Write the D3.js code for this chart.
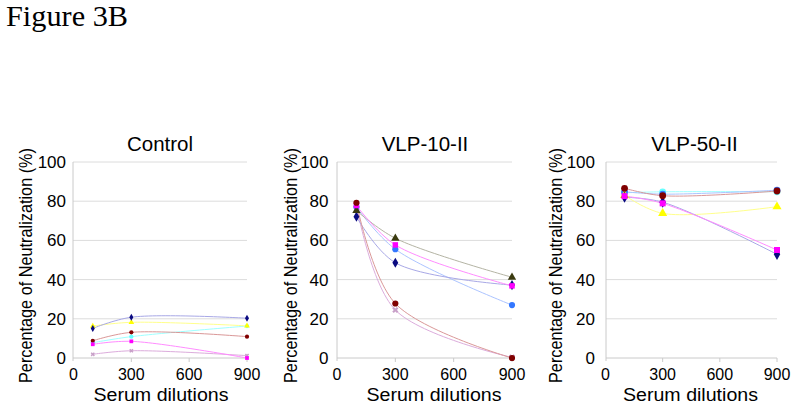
<!DOCTYPE html>
<html>
<head>
<meta charset="utf-8">
<script src="https://cdn.jsdelivr.net/npm/d3@7"></script>
<style>
  html, body { margin: 0; padding: 0; background: #fff; }
  svg { display: block; }
  text.sans { font-family: "Liberation Sans", Arial, sans-serif; fill: #000; }
  text.serif { font-family: "Liberation Serif", "Times New Roman", serif; fill: #000; }
</style>
</head>
<body>
<svg id="chart" width="795" height="408"></svg>
<script>
// ---------------- DATA ----------------
const figureTitle = "Figure 3B";
const panelTitles = ["Control", "VLP-10-II", "VLP-50-II"];
const xTitle = "Serum dilutions";
const yTitle = "Percentage of Neutralization (%)";
const dilutions = [100, 300, 900];
const xTickValues = [0, 300, 600, 900];
const yTickValues = [0, 20, 40, 60, 80, 100];

// Control panel
const controlNavy    = [15.1, 20.8, 20.3];
const controlYellow  = [16.3, 18.2, 16.4];
const controlCyan    = [7.8, 10.9, 16.3];
const controlDarkred = [8.8, 13.1, 10.9];
const controlMagenta = [7.0, 8.5, 0.0];
const controlPurple  = [1.9, 3.7, 1.2];

// VLP-10-II panel
const vlp10Darkred = [79.2, 27.8, 0.0];
const vlp10Purple  = [78.0, 24.5, 0.3];
const vlp10Magenta = [77.8, 57.7, 36.8];
const vlp10Blue    = [77.0, 55.5, 27.0];
const vlp10Olive   = [75.2, 61.1, 41.2];
const vlp10Navy    = [72.1, 48.6, 37.2];

// VLP-50-II panel
const vlp50Cyan    = [84.3, 84.8, 84.8];
const vlp50Blue    = [84.8, 83.6, 85.6];
const vlp50Darkred = [86.6, 82.8, 85.2];
const vlp50Yellow  = [83.0, 73.8, 77.2];
const vlp50Navy    = [82.0, 79.5, 52.9];
const vlp50Magenta = [82.6, 78.9, 55.1];

const panelSeries = [
  [["cyan", controlCyan], ["purple", controlPurple], ["darkred", controlDarkred],
   ["magenta", controlMagenta], ["yellow", controlYellow], ["navy", controlNavy]],
  [["purple", vlp10Purple], ["blue", vlp10Blue], ["navy", vlp10Navy],
   ["olive", vlp10Olive], ["magenta", vlp10Magenta], ["darkred", vlp10Darkred]],
  [["cyan", vlp50Cyan], ["blue", vlp50Blue], ["yellow", vlp50Yellow],
   ["navy", vlp50Navy], ["magenta", vlp50Magenta], ["darkred", vlp50Darkred]]
];

// ---------------- STYLE ----------------
const seriesStyle = {
  navy:    { marker: "#0a0a80", line: "#a8a8e6", shape: d3.symbolDiamond },
  magenta: { marker: "#ff00ff", line: "#ff8cff", shape: d3.symbolSquare },
  yellow:  { marker: "#ffff00", line: "#ffff8c", shape: d3.symbolTriangle },
  cyan:    { marker: "#66ffff", line: "#a0ffff", shape: d3.symbolCircle },
  purple:  { marker: "#c8a0c8", line: "#dcacdc", shape: d3.symbolCross },
  darkred: { marker: "#800000", line: "#da9898", shape: d3.symbolCircle },
  olive:   { marker: "#3a3a10", line: "#b4b4a4", shape: d3.symbolTriangle },
  blue:    { marker: "#3377ff", line: "#acc4ff", shape: d3.symbolCircle }
};

// panel geometry
const layout = [
  { x0: 73.5, x1: 247, axisX: 73,  titleX: 160,   xTitleX: 161,  yLabelX: 31.7,  yTickRight: 66,    marker: 14 },
  { x0: 337,  x1: 512, axisX: 337, titleX: 425,   xTitleX: 434,  yLabelX: 297.3, yTickRight: 328.5, marker: 30 },
  { x0: 605.5,x1: 777, axisX: 606, titleX: 694.5, xTitleX: 690.5,yLabelX: 562.3, yTickRight: 595,   marker: 36 }
];
const yBottom = 358, yTop = 162;

const svg = d3.select("#chart");

svg.append("text")
  .attr("class", "serif")
  .attr("x", 6).attr("y", 26)
  .attr("font-size", 28.5)
  .attr("textLength", 122).attr("lengthAdjust", "spacingAndGlyphs")
  .text(figureTitle);

panelSeries.forEach((series, p) => {
  const L = layout[p];
  const x = d3.scaleLinear().domain([0, 900]).range([L.x0, L.x1]);
  const y = d3.scaleLinear().domain([0, 100]).range([yBottom, yTop]);
  const g = svg.append("g");

  // gridlines
  g.selectAll("line.grid").data(yTickValues).join("line")
    .attr("class", "grid")
    .attr("x1", L.axisX).attr("x2", x(900))
    .attr("y1", d => y(d)).attr("y2", d => y(d))
    .attr("stroke", d => d === 0 ? "#cacaca" : "#dcdcdc")
    .attr("stroke-width", 1);

  // y axis line
  g.append("line")
    .attr("x1", L.axisX).attr("x2", L.axisX)
    .attr("y1", y(100)).attr("y2", y(0) + 3)
    .attr("stroke", "#cacaca");

  // x ticks
  g.selectAll("line.xt").data(xTickValues.slice(1)).join("line")
    .attr("class", "xt")
    .attr("x1", d => x(d)).attr("x2", d => x(d))
    .attr("y1", y(0)).attr("y2", y(0) + 4)
    .attr("stroke", "#cacaca");

  // y tick labels
  g.selectAll("text.yt").data(yTickValues).join("text")
    .attr("class", "yt sans")
    .attr("x", L.yTickRight).attr("y", d => y(d) + 6)
    .attr("text-anchor", "end")
    .attr("font-size", 17)
    .text(d => d);

  // x tick labels
  g.selectAll("text.xtl").data(xTickValues).join("text")
    .attr("class", "xtl sans")
    .attr("x", d => x(d)).attr("y", 380)
    .attr("text-anchor", "middle")
    .attr("font-size", 16)
    .text(d => d);

  // panel title
  g.append("text")
    .attr("class", "sans")
    .attr("x", L.titleX).attr("y", 150.5)
    .attr("text-anchor", "middle")
    .attr("font-size", 20.5)
    .text(panelTitles[p]);

  // x title
  g.append("text")
    .attr("class", "sans")
    .attr("x", L.xTitleX).attr("y", 401)
    .attr("text-anchor", "middle")
    .attr("font-size", 17.5)
    .attr("textLength", 135).attr("lengthAdjust", "spacingAndGlyphs")
    .text(xTitle);

  // y title
  g.append("text")
    .attr("class", "sans")
    .attr("transform", `translate(${L.yLabelX},265.5) rotate(-90)`)
    .attr("text-anchor", "middle")
    .attr("font-size", 19)
    .attr("textLength", 235).attr("lengthAdjust", "spacingAndGlyphs")
    .text(yTitle);

  // lines
  const line = d3.line()
    .x(d => x(d[0])).y(d => y(d[1]))
    .curve(d3.curveCatmullRom.alpha(0.5));

  series.forEach(([key, vals]) => {
    const pts = dilutions.map((dd, i) => [dd, vals[i]]);
    g.append("path")
      .attr("d", line(pts))
      .attr("fill", "none")
      .attr("stroke", seriesStyle[key].line)
      .attr("stroke-width", 1);
  });

  series.forEach(([key, vals]) => {
    const st = seriesStyle[key];
    const sym = d3.symbol().type(st.shape).size(st.shape === d3.symbolCross ? L.marker * 0.8 : L.marker);
    g.selectAll(null).data(dilutions.map((dd, i) => [dd, vals[i]])).join("path")
      .attr("transform", d => `translate(${x(d[0])},${y(d[1])})` + (st.shape === d3.symbolCross ? " rotate(45)" : ""))
      .attr("d", sym())
      .attr("fill", st.marker);
  });
});
</script>
</body>
</html>
